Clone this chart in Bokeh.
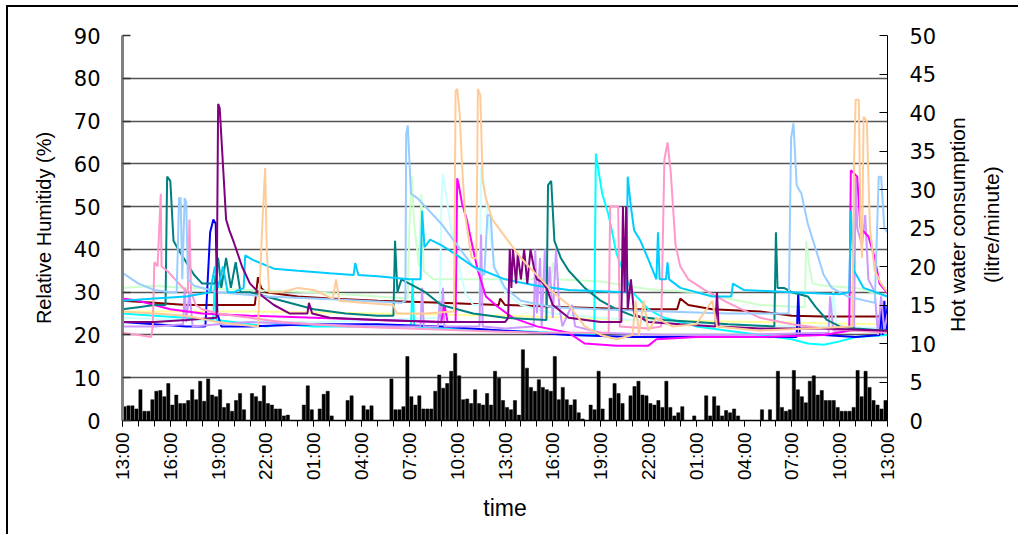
import math
from bokeh.plotting import figure
from bokeh.layouts import row
from bokeh.models import Range1d, LinearAxis, FixedTicker
from bokeh.core.properties import value
from bokeh.embed import file_html
from bokeh.resources import INLINE

# Time axis: hours elapsed since 13:00 on day 1 (48 hours in total)
hour_ticks = list(range(0, 49, 3))
hour_labels = ["13:00", "16:00", "19:00", "22:00", "01:00", "04:00", "07:00", "10:00",
               "13:00", "16:00", "19:00", "22:00", "01:00", "04:00", "07:00", "10:00", "13:00"]

# Hot water consumption (litre/minute), one value per 15-minute interval from 13:00
water_flow = [
    1.8, 1.9, 1.9, 1.5, 4.0, 1.2, 1.2, 2.7, 3.8, 3.9,
    3.1, 4.8, 2.0, 3.3, 2.2, 2.2, 2.6, 4.0, 2.7, 5.1,
    2.5, 5.4, 3.3, 3.1, 4.0, 1.7, 2.2, 1.2, 2.6, 3.5,
    1.4, 0.0, 3.5, 3.1, 2.5, 4.5, 2.2, 2.0, 1.5, 1.5,
    0.6, 0.7, 0.0, 0.0, 0.0, 2.0, 4.5, 1.4, 0.0, 1.5,
    3.4, 3.8, 0.6, 0.0, 0.0, 0.0, 2.6, 3.2, 0.0, 0.0,
    1.9, 1.4, 1.9, 0.0, 0.0, 0.0, 0.0, 5.4, 1.4, 1.4,
    1.8, 8.3, 3.1, 2.0, 3.2, 1.5, 1.5, 1.5, 3.8, 5.9,
    4.2, 4.8, 6.4, 8.7, 5.8, 2.7, 2.8, 2.2, 4.0, 2.2,
    2.0, 3.5, 2.0, 6.4, 5.5, 2.6, 1.7, 1.4, 2.6, 0.7,
    9.2, 6.8, 4.3, 3.8, 5.3, 4.3, 4.0, 3.8, 8.3, 2.7,
    4.3, 2.7, 2.0, 2.7, 1.0, 0.2, 0.0, 2.0, 1.4, 6.4,
    1.5, 0.0, 2.9, 4.8, 3.5, 2.2, 0.0, 3.2, 4.4, 5.1,
    3.3, 3.2, 2.2, 2.0, 2.6, 1.7, 5.1, 1.7, 0.6, 1.0,
    1.8, 0.0, 0.0, 0.6, 0.0, 0.0, 3.2, 0.6, 3.1, 1.9,
    0.6, 1.3, 1.0, 1.5, 0.6, 0.0, 0.0, 0.0, 0.0, 0.0,
    1.4, 0.0, 1.4, 0.0, 6.4, 1.7, 1.2, 1.4, 6.5, 4.0,
    3.1, 2.3, 5.1, 5.8, 3.3, 3.9, 2.6, 2.6, 2.6, 1.7,
    1.2, 1.2, 1.2, 1.7, 6.5, 3.1, 6.4, 4.3, 2.6, 2.0,
    1.5, 2.6,
]

# Relative humidity (%) logged in each room: breakpoint hours and readings
yellow_h = [0, 8, 16, 24, 32, 40, 48]
yellow_rh = [25.5, 25.5, 25, 24.5, 23.5, 23, 22.5]

darkred_h = [0, 2, 4, 6, 8.3, 8.5, 8.7, 9, 11, 13, 16, 20, 23.6, 23.7, 24, 28, 32, 34.8, 35, 35.5, 37, 40, 42, 44, 48]
darkred_rh = [28, 27.5, 27, 27, 27, 33.5, 31, 30, 29, 28.5, 28, 27.5, 27, 28.5, 27, 26.5, 26, 26, 28.5, 27, 26, 25.5, 24.5, 24.3, 24.3]

green_h = [0, 2, 4, 8, 12, 16, 17.9, 18.0, 18.15, 18.3, 18.6, 18.75, 18.9, 19.5, 22, 25, 26.9, 27.0, 27.2,
           30, 33, 36, 38, 40, 42.8, 42.9, 43.1, 43.3, 44, 46, 48]
green_rh = [31, 31.5, 31, 30.5, 30, 29, 28.5, 45, 57, 46, 36, 53, 35, 33, 33, 33, 33, 37, 33,
            32.5, 30.7, 30, 28.5, 27, 26.5, 42, 36, 32, 31.5, 31, 29]

lcyan_h = [0, 4, 8, 12, 16, 19.9, 20.0, 20.1, 20.3, 20.6, 21, 21.5, 22, 22.4, 22.5, 22.7, 23, 23.4, 24, 25,
           27, 30, 34, 38, 42, 44.5, 44.6, 44.8, 48]
lcyan_rh = [24, 23.5, 23, 23, 23.5, 24, 50, 57.7, 53, 45, 38, 30, 27, 27, 59, 55, 45, 35, 30, 27,
            25, 24, 23, 22.5, 22, 22, 30, 22, 21.5]

cyan_h = [0, 2, 4, 5.7, 5.8, 5.9, 9, 10, 12, 16, 18.1, 18.2, 18.3, 20, 24, 27, 29.6, 29.7, 29.8, 30.1, 30.5,
          31, 31.5, 32, 33, 34, 36, 40, 42, 43, 44, 45, 46, 48]
cyan_rh = [25, 24.5, 24, 23.5, 34, 23.5, 22, 22.5, 22, 22, 22, 33, 22, 21.5, 21, 20.5, 20, 62.4, 60, 53, 48,
           39, 34, 30, 26, 24, 22, 20, 19, 18, 17.7, 18.5, 19.5, 20]

blue_h = [0, 2, 4, 5.2, 5.35, 5.5, 5.7, 5.85, 5.95, 6.2, 8, 12, 16, 20, 24, 28, 32, 36, 40, 42.3, 42.4, 42.5,
          44, 46, 47.5, 47.6, 47.7, 47.8, 47.9, 48]
blue_rh = [23, 22.5, 22, 22, 33, 44, 47, 46, 25, 22, 22, 22.5, 22.5, 22, 21, 20, 19.5, 19.5, 19.5, 19.5, 30, 20,
           20, 19.5, 20, 27, 20, 28, 21, 27]

lavender_h = [0, 2, 3.8, 3.9, 4.0, 4.2, 4.4, 6, 8, 12, 16, 18.7, 18.8, 18.9, 19.8, 19.9, 20.0, 20.1, 20.2,
              22.4, 22.5, 22.6, 24, 25.8, 25.9, 26.0, 26.2, 26.3, 26.5, 26.6, 26.8, 27.0, 27.2, 27.4, 27.6,
              28.2, 28.4, 30, 34, 38, 44.3, 44.4, 44.6, 45.9, 46.0, 46.1, 46.4, 46.6, 46.8, 47.2, 47.4,
              47.6, 47.8, 48]
lavender_rh = [22, 22, 22.5, 31, 23, 30, 22, 22.5, 23, 22.5, 22, 22, 31, 22, 22, 28, 22.5, 31, 22,
               22, 43.5, 22, 21.5, 22, 40, 25, 38, 22, 40, 26, 36, 24, 40, 27, 22,
               27, 22, 20.5, 20, 20, 20.5, 29, 21, 21, 57, 45, 41, 48, 33, 30, 20,
               29, 21, 25]

magenta_h = [0, 1, 2, 3, 5, 8, 12, 16, 20, 20.2, 20.4, 20.9, 21.0, 21.1, 21.3, 21.6, 22, 22.3, 22.8, 23.5,
             24.5, 26, 28, 29, 31, 33, 33.5, 36, 40, 44, 45.6, 45.7, 46.1, 46.3, 46.8, 47.2, 47.5, 48]
magenta_rh = [28.5, 28, 27, 26, 25, 24.5, 24, 23.5, 23, 27, 23, 23, 56.6, 55, 50.8, 47, 40, 35, 29, 26.7,
              24, 22, 20.5, 18, 17.5, 17.5, 19, 19.5, 19.5, 20, 21, 58.5, 57, 45, 43, 38, 32, 29.8]

teal_h = [0, 1, 2, 2.7, 2.8, 3.0, 3.2, 3.5, 4, 4.5, 5, 5.8, 6.0, 6.2, 6.5, 6.8, 7.1, 7.4, 8, 9, 10, 11,
          12, 14, 16, 17.0, 17.1, 17.25, 17.5, 18, 19, 20, 22, 24, 26.6, 26.7, 26.9, 27.1, 27.5, 28, 29,
          30, 31, 32, 34, 36, 38, 40.9, 41.0, 41.1, 41.5, 42, 43, 43.5, 44.2, 45, 46, 48]
teal_rh = [26, 26.5, 27, 27, 57, 56, 42, 40, 37, 34, 32, 32, 38, 31, 38, 31, 37, 30, 30, 29, 28, 27,
           26, 25, 24.5, 24.5, 42, 30, 33, 32, 30, 27, 25, 24, 23.5, 55, 56, 42, 38, 35, 31,
           28, 26, 24.5, 23.5, 23, 22.5, 22, 44, 31, 31, 30, 29, 26.5, 23.5, 22, 21.5, 21]

pink_h = [0, 1.0, 1.8, 1.9, 2.0, 2.2, 2.4, 2.45, 2.8, 3.3, 3.8, 4.1, 4.2, 4.3, 4.6, 5.0, 6, 8, 10, 14, 18,
          22, 26, 30.5, 30.6, 31.1, 31.2, 33, 33.8, 34.0, 34.2, 34.4, 34.7, 35, 35.5, 36.5, 38, 40, 42,
          44, 46, 48]
pink_rh = [20.5, 20, 19.5, 22, 37, 36, 53, 36, 35, 33, 31, 30, 47, 30, 27, 26, 25, 24, 23, 22, 21.5,
           21, 20.5, 20.5, 50, 50, 22, 21.5, 22, 61, 65, 58, 41, 36, 33, 30.6, 27.5, 24, 22.5,
           21.5, 21, 20.5]

lblue_h = [0, 1, 2, 3.0, 3.4, 3.55, 3.65, 3.75, 3.9, 4.0, 4.1, 4.5, 6, 9, 12, 15, 17.5, 17.75, 17.8, 17.9,
           18.1, 18.5, 19, 20, 21, 22, 22.7, 22.9, 23.1, 23.3, 24, 25, 27, 30, 34, 38, 41.8, 41.95, 42.1,
           42.3, 42.6, 43, 43.5, 44, 44.5, 45.5, 47.2, 47.45, 47.6, 47.8, 48]
lblue_rh = [34.5, 32, 30.5, 30, 30, 52, 52, 33, 52, 51, 33, 31.5, 30, 29, 28.5, 28, 27.5, 28, 67, 69,
            53, 52, 50, 46, 41, 36, 34, 48, 48, 36, 31, 28, 26.5, 26, 25.5, 25, 25, 66, 69.5,
            55, 53, 46, 40, 34, 31, 29, 27.5, 57, 57, 45, 44]

skyblue_h = [0, 2, 4, 5.5, 5.8, 6.0, 6.3, 6.6, 7.0, 7.6, 7.7, 8.2, 9.5, 11, 13, 14.5, 14.6, 14.8, 16, 18,
             18.7, 18.8, 18.95, 19.3, 20, 21, 22, 24, 26, 28, 31.6, 31.7, 31.9, 32.1, 32.5, 33, 33.5,
             33.6, 33.7, 34.1, 34.2, 34.3, 35, 37, 38.2, 38.3, 39, 42, 45, 45.6, 45.7, 45.9, 46.5, 48]
skyblue_rh = [28, 28.5, 29, 30, 36, 31, 36, 30, 30, 31, 38.6, 37.5, 35.5, 35, 34.4, 34, 36.8, 34, 33.7, 33,
              33, 49, 40.5, 42.3, 41, 38.6, 36, 33, 31.5, 30.5, 30, 57, 50, 44.5, 42, 37.6, 33,
              44, 33, 33, 37, 33, 31, 29, 29, 32, 30.5, 30, 29.5, 30, 49, 35, 31, 29]

purple_h = [0, 2, 4, 5.9, 6.0, 6.1, 6.3, 6.5, 6.7, 7.0, 7.5, 8.0, 8.8, 9.5, 10.5, 11.6, 11.7, 11.9, 13, 16,
            20, 24, 24.2, 24.3, 24.4, 24.5, 24.7, 24.8, 25.0, 25.2, 25.4, 25.6, 25.8, 26.0, 26.3, 26.6,
            27, 28, 30, 31.3, 31.4, 31.5, 31.6, 31.7, 31.9, 32.1, 33, 35, 37.2, 37.3, 37.4, 40, 44, 48]
purple_rh = [23, 23, 23.5, 24, 74, 73, 60, 47, 44.5, 41.5, 36, 32, 29, 27, 25, 25, 27.5, 25, 24, 23.5,
             23, 23, 24, 40, 31, 40, 32, 39, 33, 40, 32, 40, 36, 33, 32.5, 31,
             27, 24, 23, 23, 50, 30, 50, 26, 33, 25, 23, 22.5, 22, 30, 22, 21.5, 21.5, 21]

peach_h = [0, 2, 4, 6, 7, 8.5, 8.8, 8.95, 9.05, 9.2, 10, 11, 12, 13.2, 13.4, 13.6, 15, 17, 17.2, 19, 20.8,
           20.9, 21.0, 21.15, 21.3, 21.5, 21.9, 22.2, 22.3, 22.45, 22.6, 22.8, 23.2, 24, 25, 26, 27, 28,
           29, 30, 31, 32, 32.2, 32.4, 32.7, 33, 33.5, 34.5, 36, 37, 37.3, 40, 43, 45.8, 45.9, 46.0,
           46.2, 46.3, 46.4, 46.5, 46.7, 46.9, 47.2, 47.6, 48]
peach_rh = [25.5, 25, 24.5, 23, 22.5, 22, 48, 59, 40, 30, 30, 31, 30.5, 28.5, 33, 28, 27.5, 27, 25, 25, 25.5,
            77, 77.5, 72, 60, 48, 38, 38, 77.5, 76, 56, 52, 47, 43, 38, 34, 30, 27,
            22, 20, 19, 20, 28, 20, 28, 21, 24, 22, 22.5, 28, 22, 21, 21.5, 22, 60, 75,
            75, 46, 38, 71, 70, 45, 35, 32, 30]

rh_series = [
    ("#FFFF99", yellow_h, yellow_rh),
    ("#800000", darkred_h, darkred_rh),
    ("#CCFFCC", green_h, green_rh),
    ("#CCFFFF", lcyan_h, lcyan_rh),
    ("#00FFFF", cyan_h, cyan_rh),
    ("#0000FF", blue_h, blue_rh),
    ("#CC99FF", lavender_h, lavender_rh),
    ("#FF00FF", magenta_h, magenta_rh),
    ("#008080", teal_h, teal_rh),
    ("#FF99CC", pink_h, pink_rh),
    ("#99CCFF", lblue_h, lblue_rh),
    ("#00CCFF", skyblue_h, skyblue_rh),
    ("#800080", purple_h, purple_rh),
    ("#FFCC99", peach_h, peach_rh),
]

right_title = ["Hot water consumption", "(litre/minute)"]

FONT = "Liberation Sans"
NUM_FONT = "DejaVu Sans"

p = figure(width=937, height=527,
           x_range=Range1d(0, 48), y_range=Range1d(0, 90),
           output_backend="svg", toolbar_location=None,
           min_border_left=114, min_border_right=58,
           min_border_top=28, min_border_bottom=114)
p.outline_line_color = None
p.background_fill_color = "white"
p.border_fill_color = "white"

p.extra_y_ranges = {"water": Range1d(0, 50)}

# horizontal gridlines every 10 % RH
p.xgrid.visible = False
p.ygrid.ticker = FixedTicker(ticks=list(range(0, 91, 10)))
p.ygrid.grid_line_color = "#555555"
p.ygrid.grid_line_width = 1.4

# hot water bars (right axis)
bar_x = [i * 0.25 + 0.125 for i in range(len(water_flow))]
p.vbar(x=bar_x, top=water_flow, width=0.2, bottom=0, y_range_name="water",
       fill_color="#000000", line_color="#000000", line_width=0.5)

# humidity traces (left axis)
for color, hrs, rh in rh_series:
    p.line(hrs, rh, line_color=color, line_width=2)

# x axis
xa = p.xaxis[0]
xa.ticker = FixedTicker(ticks=hour_ticks, minor_ticks=list(range(0, 49)))
xa.major_label_overrides = {t: lab for t, lab in zip(hour_ticks, hour_labels)}
xa.major_label_orientation = math.pi / 2
xa.major_label_text_font = FONT
xa.major_label_text_font_size = "19px"
xa.major_label_text_color = "#000000"
xa.major_label_standoff = 6
xa.major_tick_in = 0
xa.major_tick_out = 6
xa.minor_tick_in = 0
xa.minor_tick_out = 6
xa.major_tick_line_color = "#000000"
xa.minor_tick_line_color = "#000000"
xa.axis_line_color = "#000000"
xa.axis_line_width = 1.5
xa.axis_label = "time"
xa.axis_label_text_font = FONT
xa.axis_label_text_font_style = "normal"
xa.axis_label_text_font_size = "23px"
xa.axis_label_text_color = "#000000"
xa.axis_label_standoff = 12

# left axis: relative humidity
ya = p.yaxis[0]
ya.ticker = FixedTicker(ticks=list(range(0, 91, 10)))
ya.major_tick_in = 8
ya.major_tick_out = 0
ya.minor_tick_line_color = None
ya.axis_line_color = "#808080"
ya.axis_line_width = 3
ya.major_tick_line_color = "#333333"
ya.major_tick_line_width = 1.5
ya.major_label_text_font = NUM_FONT
ya.major_label_text_font_size = "21px"
ya.major_label_text_color = "#000000"
ya.major_label_standoff = 22
ya.axis_label = "Relative Humitidy (%)"
ya.axis_label_text_font = FONT
ya.axis_label_text_font_style = "normal"
ya.axis_label_text_font_size = "20px"
ya.axis_label_text_color = "#000000"
ya.axis_label_standoff = 16

# right axis: hot water consumption
ra = LinearAxis(y_range_name="water", ticker=FixedTicker(ticks=list(range(0, 51, 5))))
ra.major_tick_in = 8
ra.major_tick_out = 0
ra.minor_tick_line_color = None
ra.axis_line_color = "#000000"
ra.major_tick_line_color = "#000000"
ra.major_label_text_font = NUM_FONT
ra.major_label_text_font_size = "21px"
ra.major_label_text_color = "#000000"
ra.major_label_standoff = 22
p.add_layout(ra, "right")

# narrow side panel carrying the two-line right-axis title, reading bottom to top
side = figure(width=73, height=527, x_range=Range1d(0, 73), y_range=Range1d(0, 527),
              x_axis_location=None, y_axis_location=None,
              output_backend="svg", toolbar_location=None,
              min_border_left=0, min_border_right=0, min_border_top=0, min_border_bottom=0)
side.grid.visible = False
side.outline_line_color = None
side.background_fill_color = "white"
side.border_fill_color = "white"
side.text(x=[12, 46], y=[268, 268], text=right_title, angle=math.pi / 2,
          text_align="center", text_baseline="middle",
          text_font=value(FONT), text_font_size=value("21px"), text_color="#000000")

layout = row(p, side, spacing=0)
layout.styles = {"margin-left": "6px", "margin-top": "5px",
                 "border-left": "2px solid #000000", "border-top": "2px solid #000000"}

open("out.html", "w").write(file_html(layout, INLINE))
